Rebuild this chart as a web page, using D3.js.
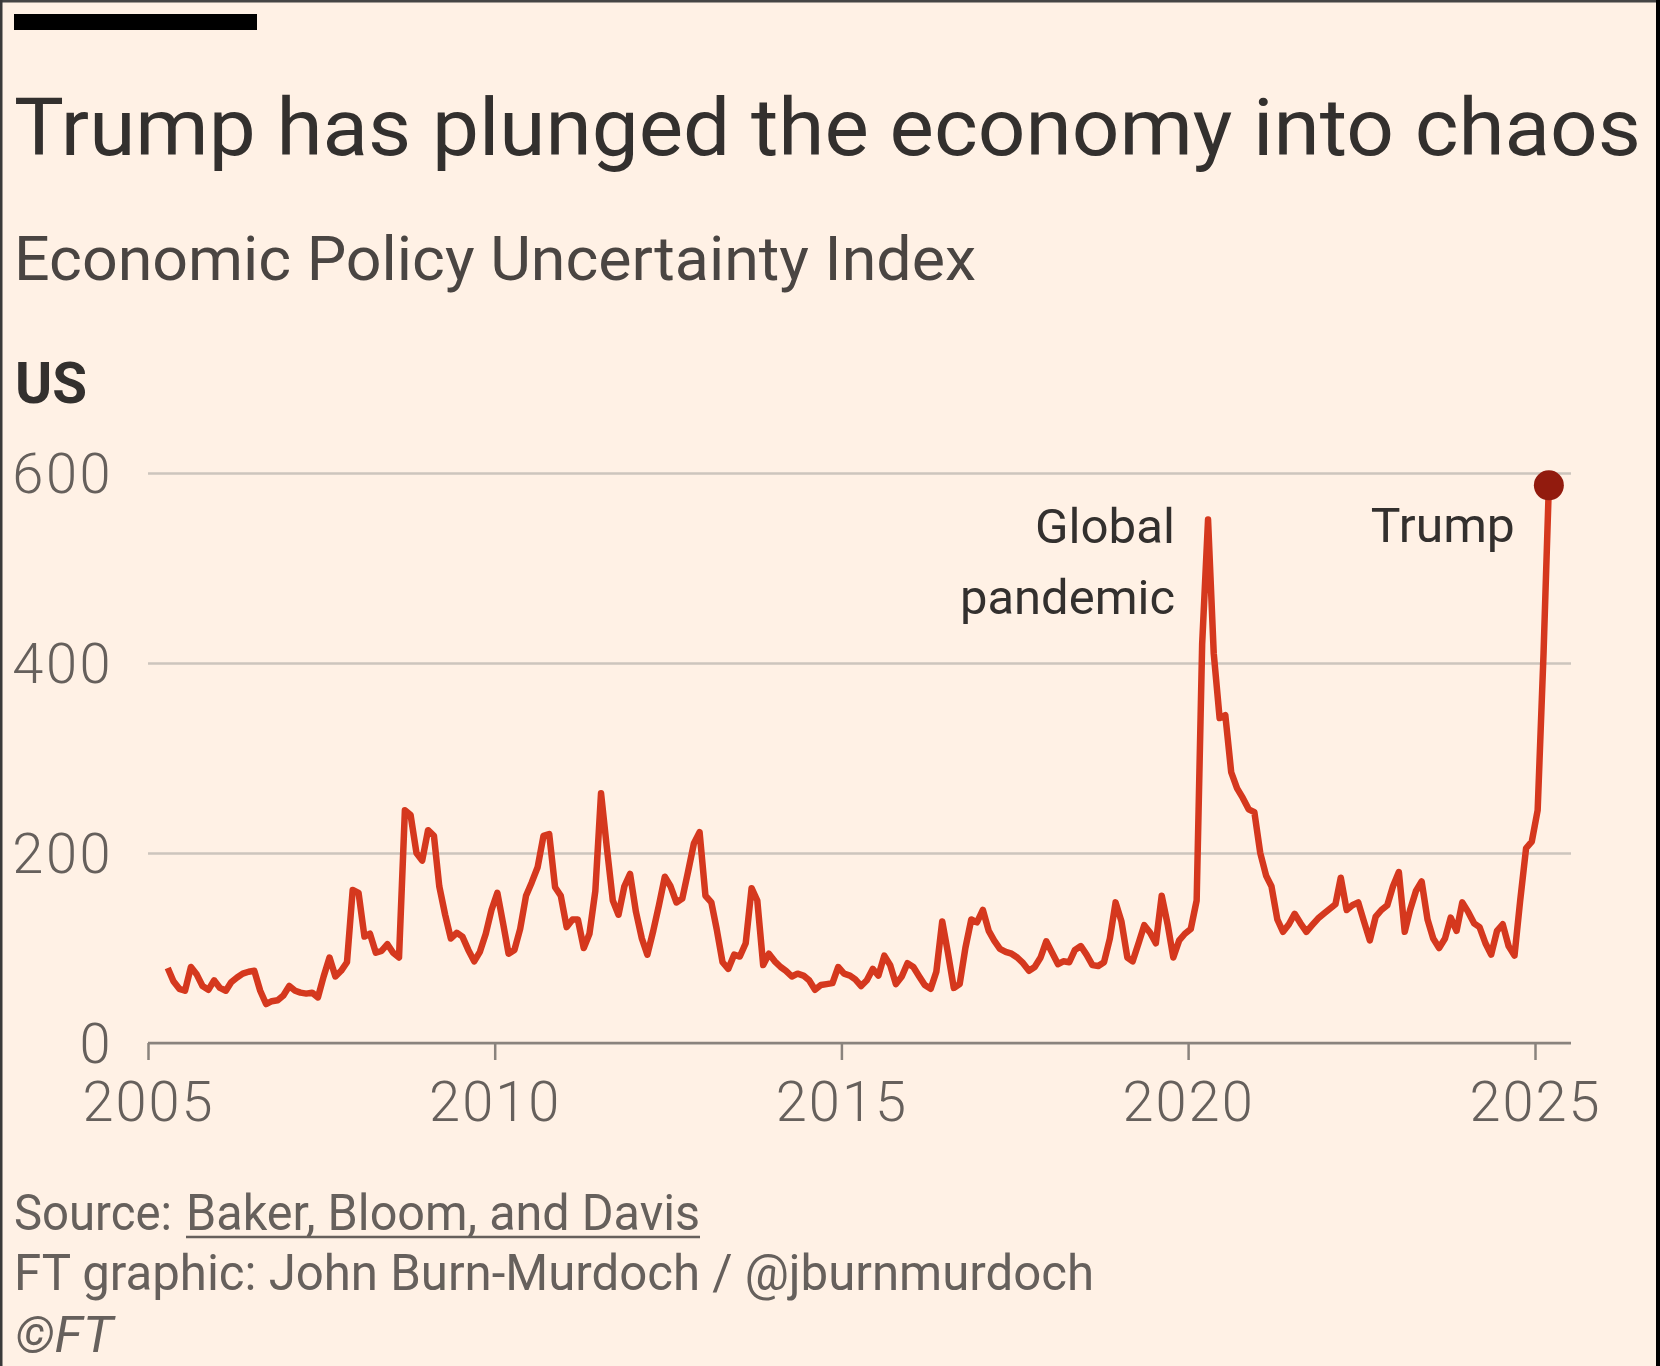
<!DOCTYPE html>
<html>
<head>
<meta charset="utf-8">
<script src="https://cdn.jsdelivr.net/npm/d3@7"></script>
<style>
  html, body { margin: 0; padding: 0; background: #fff1e5; }
  svg { display: block; }
  text { font-family: Roboto, "Noto Sans", sans-serif; }
</style>
</head>
<body>
<svg id="chart" width="1660" height="1366"></svg>
<script>
// ---------------- DATA ----------------
const titleText = "Trump has plunged the economy into chaos";
const subtitleText = "Economic Policy Uncertainty Index";
const panelLabel = "US";
const yTicks = [0, 200, 400, 600];
const xTickYears = [2005, 2010, 2015, 2020, 2025];
const startYear = 2005, startMonthIndex = 3; // April 2005
// Monthly index values, Apr 2005 – Mar 2025
const epuValues = [
  79, 65, 57, 55, 80, 72, 60, 56, 66, 58,
  55, 64, 69, 73, 75, 76, 55, 41, 44, 45,
  50, 60, 55, 53, 52, 53, 48, 70, 90, 70,
  76, 85, 161, 158, 112, 115, 95, 97, 104, 95,
  90, 245, 240, 200, 192, 224, 218, 165, 135, 110,
  116, 112, 98, 86, 96, 115, 140, 158, 125, 94,
  98, 120, 155, 169, 185, 218, 220, 164, 155, 122,
  130, 130, 100, 115, 160, 263, 205, 150, 135, 165,
  178, 138, 110, 93, 118, 145, 175, 165, 148, 152,
  180, 210, 222, 155, 148, 120, 85, 78, 93, 91,
  105, 163, 150, 82, 94, 86, 80, 76, 70, 73,
  71, 66, 56, 61, 62, 63, 80, 73, 71, 67,
  60, 66, 78, 71, 92, 82, 62, 70, 84, 80,
  70, 61, 57, 75, 128, 95, 58, 62, 100, 130,
  127, 140, 118, 108, 99, 96, 94, 90, 84, 76,
  80, 90, 107, 95, 83, 86, 85, 98, 102, 93,
  82, 81, 85, 110, 148, 128, 90, 86, 105, 124,
  116, 105, 155, 125, 90, 108, 115, 120, 150, 420,
  551, 410, 342, 345, 285, 268, 258, 246, 243, 200,
  176, 165, 130, 117, 125, 136, 126, 117, 124, 131,
  136, 141, 146, 174, 140, 145, 148, 128, 108, 133,
  140, 145, 165, 180, 117, 140, 160, 170, 130, 110,
  100, 110, 132, 118, 148, 138, 126, 122, 105, 93,
  118, 125, 102, 92, 150, 205, 212, 245, 410, 587
];
const annotationPandemic = ["Global", "pandemic"];
const annotationTrump = "Trump";
const sourceLabel = "Source:";
const sourceLink = "Baker, Bloom, and Davis";
const creditText = "FT graphic: John Burn-Murdoch / @jburnmurdoch";
const copyrightText = "©FT";

// ---------------- BUILD ----------------
const data = epuValues.map((v, i) => ({
  date: new Date(startYear, startMonthIndex + i, 15),
  value: v
}));

const svg = d3.select("#chart");
const W = 1660, H = 1366;

// background and frame
svg.append("rect").attr("width", W).attr("height", H).attr("fill", "#fff1e5");
svg.append("rect").attr("x", 0).attr("y", 0).attr("width", W).attr("height", 2.5).attr("fill", "#454545");
svg.append("rect").attr("x", 0).attr("y", 0).attr("width", 2.5).attr("height", H).attr("fill", "#3a3a3a");
svg.append("rect").attr("x", W - 4).attr("y", 0).attr("width", 4).attr("height", H).attr("fill", "#000");

// top black bar
svg.append("rect").attr("x", 14).attr("y", 14).attr("width", 243).attr("height", 16).attr("fill", "#000");

function fit(sel, width) {
  sel.attr("textLength", width).attr("lengthAdjust", "spacingAndGlyphs");
  return sel;
}

// title & subtitle
fit(svg.append("text").attr("x", 14).attr("y", 155)
  .attr("font-size", 80).attr("fill", "#33302e").text(titleText), 1627);
fit(svg.append("text").attr("x", 14).attr("y", 280)
  .attr("font-size", 62).attr("fill", "#4a4542").text(subtitleText), 962);
fit(svg.append("text").attr("x", 15).attr("y", 403)
  .attr("font-size", 57).attr("font-weight", 700).attr("fill", "#33302e").text(panelLabel), 72);

// scales
const x = d3.scaleTime()
  .domain([new Date(2005, 0, 1), new Date(2025, 0, 1)])
  .range([148, 1535]);
const y = d3.scaleLinear().domain([0, 600]).range([1043, 473]);
const plotRight = 1571;

// y axis with gridlines
const yAxis = d3.axisLeft(y)
  .tickValues(yTicks)
  .tickSize(-(plotRight - 148))
  .tickPadding(35)
  .tickFormat(d3.format("d"));
const gy = svg.append("g").attr("transform", "translate(148,0)").call(yAxis);
gy.select(".domain").remove();
gy.selectAll(".tick line").attr("stroke", "#cdc5bd").attr("stroke-width", 2.5);
gy.selectAll(".tick text")
  .attr("font-size", 56).attr("fill", "#66605c")
  .attr("font-family", "Roboto, sans-serif")
  .attr("letter-spacing", 2.5)
  .attr("dy", "0.34em").attr("font-weight", 300);

// x axis
const xAxis = d3.axisBottom(x)
  .tickValues(xTickYears.map(yr => new Date(yr, 0, 1)))
  .tickSize(17)
  .tickPadding(21)
  .tickFormat(d3.timeFormat("%Y"));
const gx = svg.append("g").attr("transform", `translate(0,${y(0)})`).call(xAxis);
gx.select(".domain").remove();
gx.selectAll(".tick line").attr("stroke", "#8a837d").attr("stroke-width", 2.5);
gx.selectAll(".tick text")
  .attr("font-size", 56).attr("fill", "#66605c")
  .attr("font-family", "Roboto, sans-serif")
  .attr("font-weight", 300)
  .attr("letter-spacing", 2)
  .attr("dy", "0.71em");

// baseline
svg.append("line")
  .attr("x1", 148).attr("x2", plotRight)
  .attr("y1", y(0)).attr("y2", y(0))
  .attr("stroke", "#8a837d").attr("stroke-width", 2.5);

// line
const line = d3.line()
  .x(d => x(d.date))
  .y(d => y(d.value))
  .curve(d3.curveLinear);
svg.append("path")
  .datum(data)
  .attr("d", line)
  .attr("fill", "none")
  .attr("stroke", "#d5381e")
  .attr("stroke-width", 6.5)
  .attr("stroke-linejoin", "round")
  .attr("stroke-linecap", "butt");

// end dot
const last = data[data.length - 1];
svg.append("circle")
  .attr("cx", x(last.date)).attr("cy", y(last.value))
  .attr("r", 15).attr("fill", "#921b0e");

// annotations
const peak = data.reduce((a, b) => (b.date.getFullYear() === 2020 && b.value > a.value ? b : a), data[0]);
const annX = x(peak.date) - 33;
fit(svg.append("text").attr("x", annX).attr("y", 543).attr("text-anchor", "end")
  .attr("font-size", 48).attr("fill", "#33302e").text(annotationPandemic[0]), 140);
fit(svg.append("text").attr("x", annX).attr("y", 614).attr("text-anchor", "end")
  .attr("font-size", 48).attr("fill", "#33302e").text(annotationPandemic[1]), 215);
fit(svg.append("text").attr("x", x(last.date) - 34).attr("y", 542).attr("text-anchor", "end")
  .attr("font-size", 48).attr("fill", "#33302e").text(annotationTrump), 144);

// footer
fit(svg.append("text").attr("x", 14).attr("y", 1230)
  .attr("font-size", 50).attr("fill", "#66605c").text(sourceLabel), 158);
fit(svg.append("text").attr("x", 186).attr("y", 1230)
  .attr("font-size", 50).attr("fill", "#66605c").text(sourceLink), 514);
svg.append("line").attr("x1", 186).attr("x2", 700).attr("y1", 1237).attr("y2", 1237)
  .attr("stroke", "#66605c").attr("stroke-width", 2.5);
fit(svg.append("text").attr("x", 14).attr("y", 1290)
  .attr("font-size", 50).attr("fill", "#66605c").text(creditText), 1080);
fit(svg.append("text").attr("x", 15).attr("y", 1352)
  .attr("font-size", 50).attr("font-style", "italic").attr("fill", "#66605c").text(copyrightText), 98);
</script>
</body>
</html>
